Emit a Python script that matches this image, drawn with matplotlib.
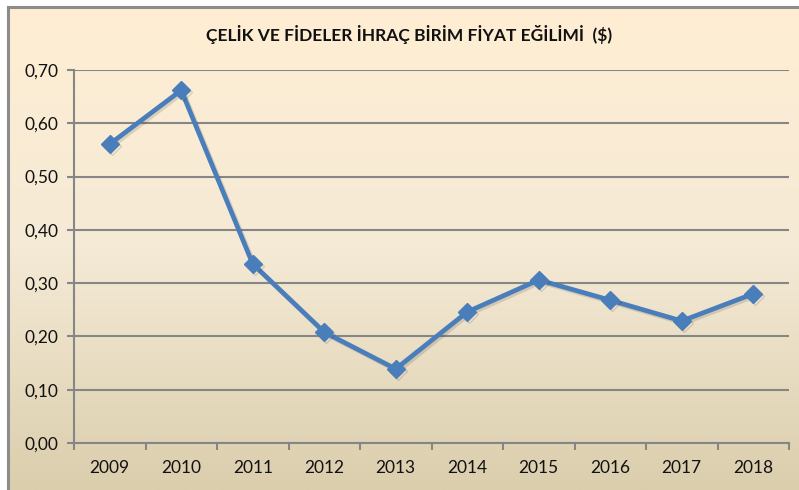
import numpy as np
import matplotlib
matplotlib.use("Agg")
import matplotlib.pyplot as plt
from matplotlib.colors import LinearSegmentedColormap
import matplotlib.patheffects as pe

years = ["2009", "2010", "2011", "2012", "2013", "2014", "2015", "2016", "2017", "2018"]
prices = [0.561, 0.662, 0.336, 0.208, 0.139, 0.246, 0.306, 0.268, 0.229, 0.280]
yticks = [0.0, 0.1, 0.2, 0.3, 0.4, 0.5, 0.6, 0.7]
ytick_labels = ["0,00", "0,10", "0,20", "0,30", "0,40", "0,50", "0,60", "0,70"]
title = "ÇELİK VE FİDELER İHRAÇ BİRİM FİYAT EĞİLİMİ  ($)"

W, H = 799, 490
fig = plt.figure(figsize=(W / 100, H / 100), dpi=100)
fig.patch.set_facecolor("white")

# background gradient
bg = fig.add_axes([8 / W, 0, 1 - 8 / W, 1 - 7 / H])
bg.set_axis_off()
cmap = LinearSegmentedColormap.from_list("bg", ["#FFEED3", "#F5EAD6", "#DBCEAD"])
grad = np.linspace(0, 1, 256).reshape(-1, 1)
bg.imshow(grad, aspect="auto", cmap=cmap, extent=[0, 1, 0, 1], origin="upper")
bg.set_xlim(0, 1)
bg.set_ylim(0, 1)
# border (top and left)
fig.add_artist(plt.Line2D([8 / W, 1], [1 - 7 / H, 1 - 7 / H], color="#8C8C8C", lw=2.2, transform=fig.transFigure))
fig.add_artist(plt.Line2D([8 / W, 8 / W], [0, 1 - 7 / H], color="#8C8C8C", lw=2.2, transform=fig.transFigure))

ax = fig.add_axes([74 / W, 1 - 443 / H, (789 - 74) / W, (443 - 70) / H])
ax.set_facecolor("none")
x = np.arange(len(years))
ax.plot(x, prices, color="#4A7EBB", lw=3.4, marker="D", markersize=9,
        solid_joinstyle="round", zorder=3,
        path_effects=[pe.SimpleLineShadow(offset=(1.5, -1.5), shadow_color="#000000", alpha=0.12), pe.Normal()])

ax.set_xlim(-0.5, len(years) - 0.5)
ax.set_ylim(0, 0.7)
ax.set_yticks(yticks)
ax.set_yticklabels(ytick_labels)
ax.set_xticks(x)
ax.set_xticklabels(years)
ax.set_xticks(np.arange(-0.5, len(years), 1.0), minor=True)
ax.tick_params(axis="x", which="major", length=0, pad=12)
ax.tick_params(axis="x", which="minor", length=5, width=1.5, color="#868686", direction="out")
ax.tick_params(axis="y", length=5, width=1.5, color="#868686", direction="out", pad=6)
for lab in ax.get_xticklabels() + ax.get_yticklabels():
    lab.set_fontfamily("Lato")
    lab.set_fontsize(12.5)
    lab.set_color("#111111")

ax.grid(axis="y", color="#868686", lw=1.5)
ax.set_axisbelow(True)
for s in ["top", "right"]:
    ax.spines[s].set_visible(False)
ax.spines["left"].set_color("#868686")
ax.spines["left"].set_linewidth(1.5)
ax.spines["bottom"].set_color("#868686")
ax.spines["bottom"].set_linewidth(1.5)

fig.text(409 / W, 1 - 34 / H, title, ha="center", va="center", fontsize=12.5,
         fontweight="bold", family="Lato", color="#111111")

fig.savefig("out.png", dpi=100)
